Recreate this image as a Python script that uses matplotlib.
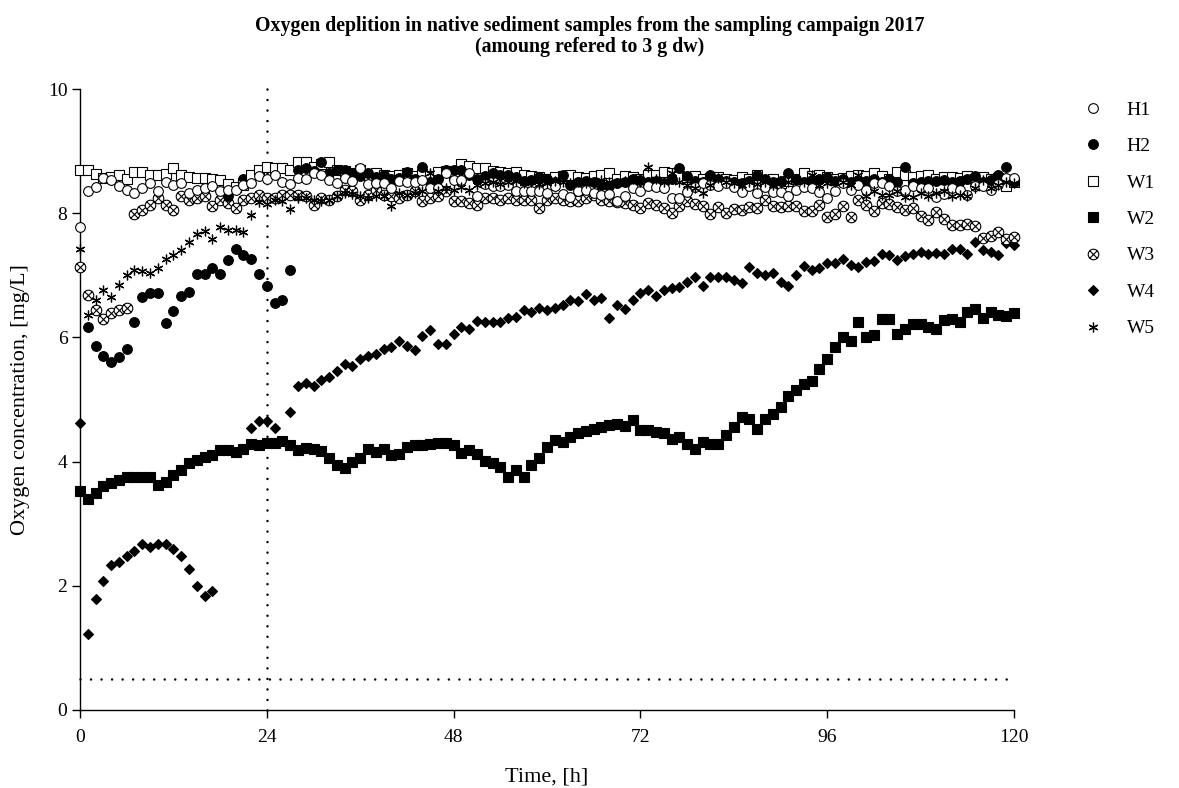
import numpy as np
import matplotlib
matplotlib.use("Agg")
import matplotlib.pyplot as plt
from matplotlib.path import Path
from matplotlib.lines import Line2D

plt.rcParams['font.family'] = ['Liberation Serif', 'DejaVu Serif']

nan = np.nan
hours = np.arange(0, 121)

h1 = [7.78, 8.36, 8.42, 8.56, 8.53, 8.43, 8.37, 8.33, 8.40, 8.48, 8.36, 8.51, 8.45, 8.48, 8.33, 8.38, 8.40, 8.43, 8.35, 8.38, 8.37, 8.45, 8.48, 8.60, 8.55,
      8.62, 8.51, 8.47, 8.56, 8.55, 8.64, 8.62, 8.54, 8.48, 8.57, 8.52, 8.72, 8.47, 8.48, 8.48, 8.40, 8.52, 8.51, 8.51, 8.54, 8.40, 8.40, 8.64, 8.54,
      8.53, 8.65, 8.27, 8.47, 8.43, 8.43, 8.45, 8.36, 8.36, 8.36, 8.36, 8.33, 8.44, 8.31, 8.26, 8.35, 8.38, 8.33, 8.29, 8.31, 8.20, 8.27, 8.41, 8.35, 8.43,
      8.42, 8.40, 8.25, 8.25, 8.34, 8.42, 8.48, 8.45, 8.43, 8.49, 8.42, 8.34, 8.43, 8.33, 8.42, 8.34, 8.34, 8.27, 8.37, 8.42, 8.40, 8.34, 8.24, 8.36,
      8.48, 8.37, 8.45, 8.37, 8.49, 8.49, 8.44, 8.35, 8.37, 8.44, 8.40, 8.40, 8.26, 8.31, 8.40, 8.38, 8.29, 8.43, 8.43, 8.38, 8.47, 8.57, 8.57]

h2 = [nan,
      6.17, 5.86, 5.70, 5.61, 5.68, 5.82, 6.25, 6.65, 6.71, 6.71, 6.23, 6.43, 6.67, 6.73, 7.02, 7.02, 7.11, 7.02, 7.25, 7.43, 7.33, 7.27, 7.02, 6.82, 6.56, 6.60, 7.08,
      8.70, 8.73, 8.68, 8.83, 8.65, 8.70, 8.70, 8.64, 8.60, 8.64, 8.59, 8.62, 8.55, 8.57, 8.67, 8.55, 8.75, 8.51, 8.55, 8.70, 8.70,
      8.70, 8.62, 8.55, 8.60, 8.65, 8.62, 8.62, 8.58, 8.52, 8.53, 8.59, 8.55, 8.50, 8.62, 8.45, 8.50, 8.52, 8.50, 8.45, 8.43, 8.48, 8.50, 8.55, 8.54, 8.50,
      8.52, 8.48, 8.55, 8.72, 8.60, 8.52, 8.50, 8.62, 8.55, 8.52, 8.50, 8.48, 8.52, 8.62, 8.55, 8.50, 8.52, 8.65, 8.55, 8.50, 8.53, 8.55, 8.59, 8.52,
      8.55, 8.50, 8.52, 8.52, 8.55, 8.50, 8.55, 8.51, 8.75, 8.48, 8.50, 8.52, 8.52, 8.53, 8.50, 8.52, 8.55, 8.60, 8.50, 8.53, 8.61, 8.75, 8.51]
# partly hidden H2 points inside the upper cluster
h2_extra_t = [19, 21]
h2_extra = [8.28, 8.55]

w1 = [8.70, 8.69, 8.63, 8.57, 8.58, 8.62, 8.55, 8.66, 8.66, 8.62, 8.61, 8.63, 8.72, 8.62, 8.59, 8.56, 8.56, 8.55, 8.53, 8.47, 8.42, 8.45, 8.62, 8.70, 8.74,
      8.72, 8.73, 8.70, 8.82, 8.83, 8.75, 8.80, 8.83, 8.70, 8.68, 8.65, 8.70, 8.62, 8.65, 8.62, 8.60, 8.62, 8.65, 8.60, 8.63, 8.60, 8.66, 8.68, 8.62,
      8.79, 8.76, 8.73, 8.72, 8.68, 8.66, 8.65, 8.67, 8.62, 8.60, 8.58, 8.55, 8.58, 8.60, 8.62, 8.58, 8.57, 8.60, 8.62, 8.65, 8.55, 8.60, 8.58, 8.55, 8.62,
      8.62, 8.66, 8.65, 8.60, 8.58, 8.60, 8.55, 8.57, 8.58, 8.55, 8.54, 8.58, 8.55, 8.62, 8.51, 8.55, 8.49, 8.52, 8.55, 8.65, 8.60, 8.62, 8.58, 8.55,
      8.57, 8.60, 8.62, 8.60, 8.65, 8.60, 8.55, 8.67, 8.62, 8.58, 8.60, 8.61, 8.55, 8.59, 8.58, 8.57, 8.60, 8.55, 8.58, 8.55, 8.57, 8.43, 8.50]

w2 = [3.52, 3.39, 3.49, 3.61, 3.65, 3.71, 3.76, 3.76, 3.76, 3.76, 3.62, 3.67, 3.78, 3.86, 3.98, 4.03, 4.08, 4.11, 4.18, 4.19, 4.16, 4.21, 4.28, 4.27, 4.30,
      4.30, 4.33, 4.27, 4.18, 4.22, 4.20, 4.17, 4.06, 3.95, 3.89, 4.00, 4.05,
      4.20, 4.16, 4.20, 4.11, 4.13, 4.24, 4.27, 4.27, 4.29, 4.30, 4.30, 4.27, 4.14, 4.19, 4.13, 4.01, 3.98, 3.92, 3.75, 3.86, 3.75, 3.95, 4.05, 4.23,
      4.35, 4.32, 4.40, 4.46, 4.50, 4.52, 4.55, 4.59, 4.60, 4.57, 4.67, 4.51, 4.51,
      4.48, 4.46, 4.36, 4.40, 4.29, 4.21, 4.32, 4.29, 4.28, 4.43, 4.56, 4.72, 4.68, 4.53, 4.68, 4.77, 4.88, 5.06, 5.16, 5.25, 5.30, 5.49, 5.65,
      5.85, 6.01, 5.95, 6.25, 6.00, 6.04, 6.29, 6.30, 6.06, 6.14, 6.21, 6.22, 6.17, 6.14, 6.28, 6.30, 6.25, 6.41, 6.46, 6.31, 6.41, 6.36, 6.34, 6.40]

w3 = [7.14, 6.68, 6.44, 6.29, 6.40, 6.44, 6.47, 7.99, 8.05, 8.13, 8.25, 8.13, 8.05, 8.28, 8.22, 8.24, 8.28, 8.12, 8.21, 8.16, 8.09, 8.21, 8.24, 8.29, 8.24,
      8.25, 8.29, 8.30, 8.30, 8.27, 8.13, 8.24, 8.21, 8.27, 8.37, 8.36, 8.22, 8.30, 8.37, 8.30, 8.28, 8.25, 8.30, 8.35, 8.19, 8.25, 8.28, 8.35, 8.20,
      8.19, 8.16, 8.13, 8.24, 8.25, 8.22, 8.25, 8.22, 8.21, 8.21, 8.08, 8.21, 8.25, 8.21, 8.19, 8.20, 8.24, 8.30, 8.22, 8.20, 8.18, 8.16, 8.13, 8.08, 8.17,
      8.13, 8.08, 8.00, 8.12, 8.19, 8.15, 8.12, 7.99, 8.10, 8.01, 8.06, 8.05, 8.10, 8.08, 8.21, 8.11, 8.10, 8.12, 8.12, 8.03, 8.03, 8.13, 7.94, 7.99,
      8.11, 7.94, 8.21, 8.13, 8.04, 8.16, 8.15, 8.10, 8.05, 8.09, 7.96, 7.89, 8.02, 7.90, 7.81, 7.81, 7.82, 7.79, 7.60, 7.63, 7.69, 7.58, 7.61]

w4 = [4.62, 1.22, 1.79, 2.07, 2.33, 2.39, 2.48, 2.56, 2.67, 2.63, 2.67, 2.67, 2.60, 2.48, 2.27, 1.99, 1.84, 1.91,
      nan, nan, nan, nan, 4.54, 4.66, 4.66, 4.54, nan, 4.80,
      5.21, 5.27, 5.22, 5.31, 5.36, 5.46, 5.57, 5.54, 5.66, 5.70, 5.74, 5.81, 5.85, 5.95, 5.86, 5.79, 6.02, 6.12, 5.90, 5.90, 6.05,
      6.16, 6.13, 6.27, 6.25, 6.25, 6.24, 6.31, 6.33, 6.44, 6.41, 6.47, 6.44, 6.48, 6.52, 6.61, 6.59, 6.70, 6.61, 6.64, 6.32, 6.52, 6.45, 6.61, 6.71,
      6.76, 6.66, 6.76, 6.80, 6.81, 6.90, 6.97, 6.83, 6.97, 6.97, 6.97, 6.93, 6.88, 7.13, 7.04, 7.00, 7.03, 6.90, 6.83, 7.00, 7.15, 7.09, 7.11, 7.20,
      7.20, 7.27, 7.16, 7.13, 7.22, 7.23, 7.35, 7.33, 7.25, 7.31, 7.35, 7.38, 7.35, 7.36, 7.35, 7.43, 7.42, 7.35, 7.53, 7.41, 7.38, 7.33, 7.52, 7.49]

w5 = [7.42, 6.36, 6.60, 6.77, 6.65, 6.84, 7.00, 7.08, 7.07, 7.04, 7.11, 7.26, 7.33, 7.41, 7.54, 7.66, 7.72, 7.58, 7.78, 7.73, 7.73, 7.69, 7.97, 8.18, 8.15,
      8.21, 8.20, 8.06, 8.25, 8.24, 8.21, 8.19, 8.22, 8.27, 8.32, 8.31, 8.27, 8.25, 8.28, 8.27, 8.11, 8.32, 8.30, 8.33, 8.35, 8.65, 8.36, 8.40, 8.38,
      8.42, 8.38, 8.45, 8.48, 8.50, 8.47, 8.50, 8.52, 8.48, 8.50, 8.47, 8.49, 8.52, 8.50, 8.49, 8.51, 8.48, 8.50, 8.53, 8.50, 8.48, 8.52, 8.55, 8.50, 8.74,
      8.55, 8.50, 8.64, 8.51, 8.45, 8.40, 8.32, 8.45, 8.56, 8.50, 8.48, 8.45, 8.50, 8.47, 8.50, 8.45, 8.48, 8.50, 8.53, 8.50, 8.62, 8.45, 8.48, 8.50,
      8.50, 8.45, 8.62, 8.27, 8.35, 8.30, 8.30, 8.35, 8.26, 8.26, 8.32, 8.28, 8.33, 8.35, 8.28, 8.30, 8.28, 8.40, 8.54, 8.40, 8.45, 8.51, 8.48]

labels = ["H1", "H2", "W1", "W2", "W3", "W4", "W5"]
x_ticks = [0, 24, 48, 72, 96, 120]
y_ticks = [0, 2, 4, 6, 8, 10]
t_event = 24
threshold = 0.5

# circle with an X inside (W3 marker)
circ = Path.unit_circle()
d = 0.7071
xpath = Path([(-d, -d), (d, d), (-d, d), (d, -d)],
             [Path.MOVETO, Path.LINETO, Path.MOVETO, Path.LINETO])
circle_x = Path.make_compound_path(circ, xpath)

fig = plt.figure(figsize=(11.79, 7.88), dpi=100)
ax = fig.add_axes([80/1179, 1 - 710/788, (1014-80)/1179, (710-89)/788])

ms = 7.0
styles = {
    "H1": dict(marker='o', ms=ms, mfc='white', mec='black', mew=0.8, zorder=10),
    "H2": dict(marker='o', ms=ms, mfc='black', mec='black', mew=0.8, zorder=9),
    "W1": dict(marker='s', ms=ms, mfc='white', mec='black', mew=0.8, zorder=8),
    "W2": dict(marker='s', ms=ms, mfc='black', mec='black', mew=0.8, zorder=7),
    "W3": dict(marker=circle_x, ms=ms + 0.6, mfc='white', mec='black', mew=0.8, zorder=6),
    "W4": dict(marker='D', ms=5.6, mfc='black', mec='black', mew=0.8, zorder=5),
    "W5": dict(marker=(6, 2, 0), ms=7.0, mfc='black', mec='black', mew=0.9, zorder=11),
}
series = {"H1": h1, "H2": h2, "W1": w1, "W2": w2, "W3": w3, "W4": w4, "W5": w5}

handles = []
for name in labels:
    st = styles[name]
    ax.plot(hours, series[name], linestyle='none', clip_on=False, **st)
    handles.append(Line2D([], [], linestyle='none', **{k: v for k, v in st.items() if k != 'zorder'}))
st = styles["H2"]
ax.plot(h2_extra_t, h2_extra, linestyle='none', clip_on=False, **{**st, 'zorder': 7.5})

# reference lines
dots = (0, (0.01, 4.2))
ax.plot([t_event, t_event], [0, 10], color='black', lw=1.8, linestyle=dots,
        dash_capstyle='round', zorder=3, clip_on=False)
ax.plot([0, 120], [threshold, threshold], color='black', lw=1.8, linestyle=dots,
        dash_capstyle='round', zorder=3, clip_on=False)

ax.set_xlim(0, 120)
ax.set_ylim(0, 10)
ax.set_xticks(x_ticks)
ax.set_yticks(y_ticks)
ax.spines['top'].set_visible(False)
ax.spines['right'].set_visible(False)
for s in ['left', 'bottom']:
    ax.spines[s].set_linewidth(1.0)
ax.tick_params(axis='both', direction='out', length=6, width=1.0, labelsize=14)
ax.tick_params(axis='x', pad=8)
ax.tick_params(axis='y', pad=3)
ax.set_xlabel("Time, [h]", fontsize=16, labelpad=15)
ax.set_ylabel("Oxygen concentration, [mg/L]", fontsize=16, labelpad=13)

fig.text(0.5, 1 - 26/788, "Oxygen deplition in native sediment samples from the sampling campaign 2017",
         ha='center', va='center', fontsize=14.3, fontweight='bold')
fig.text(0.5, 1 - 47/788, "(amoung refered to 3 g dw)",
         ha='center', va='center', fontsize=14.3, fontweight='bold')

fig.legend(handles, labels, loc='upper left', bbox_to_anchor=(1083/1179, 1 - 101/788),
           frameon=False, fontsize=14, numpoints=1, handlelength=1.0, handletextpad=1.25,
           labelspacing=0.97, borderaxespad=0, borderpad=0)

fig.savefig("out.png", dpi=100)
